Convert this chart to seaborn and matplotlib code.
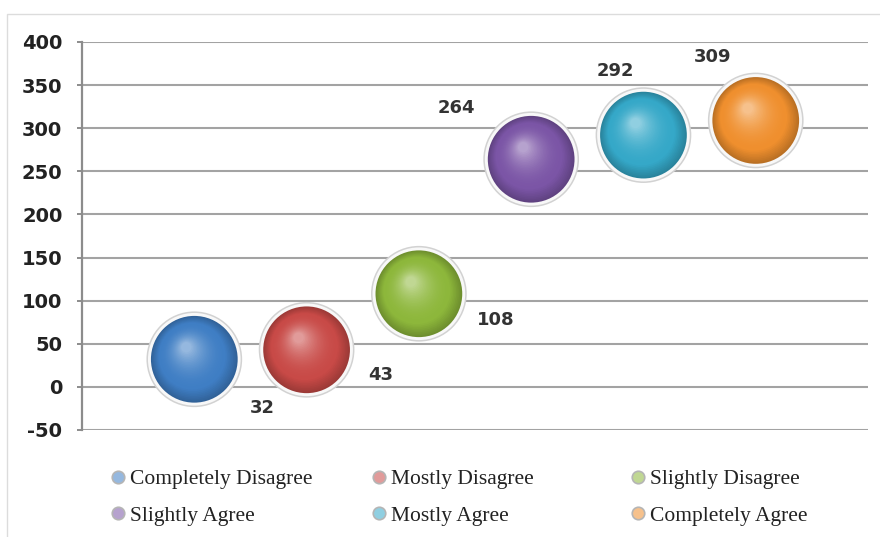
import numpy as np
import pandas as pd
import seaborn as sns
import matplotlib
matplotlib.use("Agg")
import matplotlib.pyplot as plt
from matplotlib.transforms import ScaledTranslation
from matplotlib.lines import Line2D
from matplotlib.patches import Rectangle
from matplotlib.colors import to_rgb

# data
categories = ["Completely Disagree", "Mostly Disagree", "Slightly Disagree",
              "Slightly Agree", "Mostly Agree", "Completely Agree"]
positions = [1, 2, 3, 4, 5, 6]
values = [32, 43, 108, 264, 292, 309]
colors = ["#3f7ec4", "#c84a47", "#8db73b", "#7b55a6", "#35a8c8", "#ef8f2e"]
y_ticks = [-50, 0, 50, 100, 150, 200, 250, 300, 350, 400]

# where excel put the data labels (offset from bubble centre, points)
label_offsets = [(49, -35), (53, -18), (55, -19), (-54, 37), (-20, 46), (-31, 46)]

sns.set_theme(style="white")
plt.rcParams['font.family'] = ['DejaVu Sans']
plt.rcParams['axes.unicode_minus'] = False

df = pd.DataFrame({"cat": categories, "x": positions, "y": values})

fig = plt.figure(figsize=(8.8, 5.37), dpi=100)
ax = fig.add_axes([0.0932, 0.1993, 0.8932, 0.7225])

# faint chart-area frame
fig.patches.append(Rectangle((7 / 880, -0.01), 1.0, (537 - 14) / 537 + 0.01,
                             transform=fig.transFigure, fill=False,
                             edgecolor="#dcdcdc", lw=1.0))

WHITE = np.array([1.0, 1.0, 1.0])


def mix(a, b, t):
    return np.asarray(a) * (1 - t) + np.asarray(b) * t


S = 3900  # sphere marker area (pt^2)

# glass rim behind the spheres
sns.scatterplot(data=df, x="x", y="y", s=4750, color="#d2d2d2", edgecolor="none",
                legend=False, ax=ax, zorder=3)
sns.scatterplot(data=df, x="x", y="y", s=4450, color="#f8f8f8", edgecolor="none",
                legend=False, ax=ax, zorder=3.1)

# sphere shading: stacked shrinking discs drifting toward the highlight
N = 32
for i in range(N):
    t = i / (N - 1)
    pal = {}
    for c, col in zip(categories, colors):
        base = np.array(to_rgb(col))
        dark = base * 0.78
        light = mix(base, WHITE, 0.45)
        if t < 0.25:
            cc = mix(dark, base, t / 0.25)
        else:
            cc = mix(base, light, ((t - 0.25) / 0.75) ** 2.0)
        pal[c] = tuple(np.clip(cc, 0, 1))
    scale = 1 - 0.88 * t
    sns.scatterplot(data=df, x="x", y="y", hue="cat", palette=pal, s=S * scale ** 2,
                    edgecolor="none", legend=False, ax=ax, zorder=4 + i * 0.01)
    ax.collections[-1].set_offset_transform(
        ax.transData + ScaledTranslation(-0.08 * t, 0.12 * t, fig.dpi_scale_trans))

for x, v, off in zip(positions, values, label_offsets):
    ax.annotate(str(v), (x, v), xytext=off, textcoords="offset points",
                ha="center", va="center", fontsize=13, fontweight="bold",
                color="#333333", zorder=10)

ax.set_xlim(0, 7)
ax.set_ylim(-50, 400)
ax.set_yticks(y_ticks)
ax.set_xticks([])
ax.set_xlabel("")
ax.set_ylabel("")
ax.yaxis.grid(True, color="#a3a3a3", lw=1.5, zorder=0)
ax.xaxis.grid(False)
ax.set_axisbelow(True)
for side in ["top", "right", "bottom"]:
    ax.spines[side].set_visible(False)
ax.spines["left"].set_color("#8c8c8c")
ax.spines["left"].set_linewidth(1.6)
ax.tick_params(axis="y", left=True, length=3.6, width=1.4, color="#8c8c8c",
               pad=10.5, labelsize=14, labelcolor="#222222")
for lab in ax.get_yticklabels():
    lab.set_fontweight("bold")
ax.set_facecolor("white")

# legend: three columns of two, placed like the excel one
col_order = [[0, 3], [1, 4], [2, 5]]
col_x = [109.5, 370.5, 629.5]
for idx, cx in zip(col_order, col_x):
    handles = []
    for k in idx:
        base = np.array(to_rgb(colors[k]))
        handles.append(Line2D([], [], marker="o", linestyle="none", markersize=9,
                              markerfacecolor=tuple(mix(base, WHITE, 0.45)),
                              markeredgecolor="#b5b5b5", markeredgewidth=1.2))
    fig.legend(handles, [categories[k] for k in idx], loc="center left",
               bbox_to_anchor=(cx / 880, (537 - 497.5) / 537),
               frameon=False, borderpad=0, borderaxespad=0, handlelength=0.8,
               handletextpad=0.15, labelspacing=0.75,
               prop={"family": "Liberation Serif", "size": 15.5}, labelcolor="#222222")

fig.savefig("out.png", dpi=100, facecolor="white")
